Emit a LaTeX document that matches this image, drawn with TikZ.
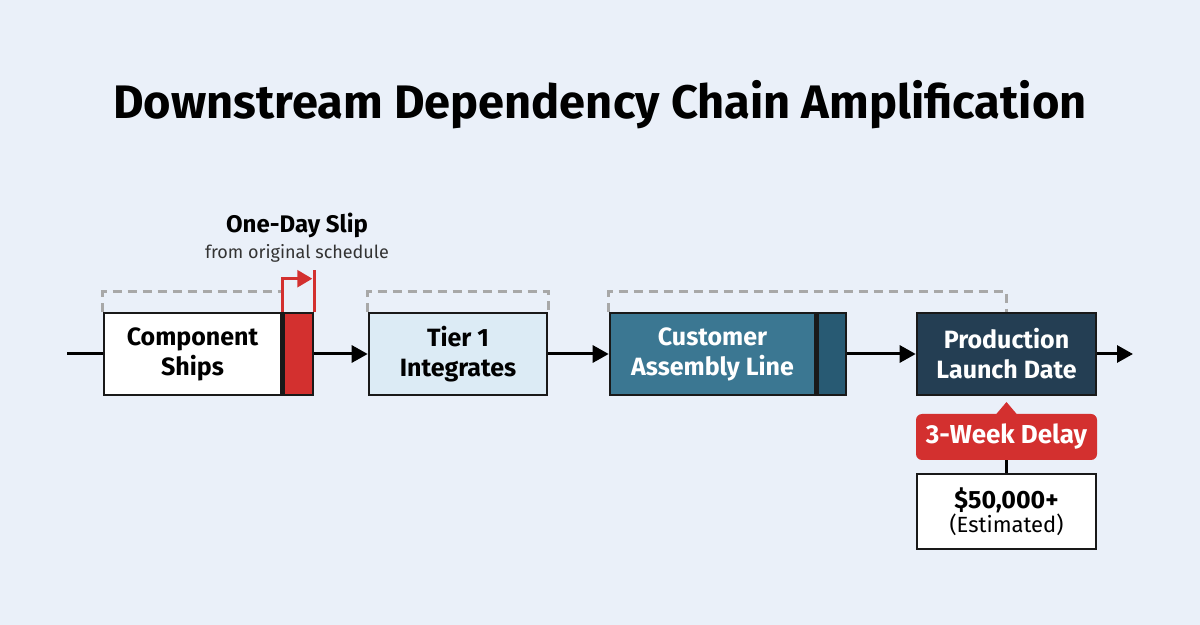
\documentclass[tikz,border=0pt]{standalone}
\usepackage{fontspec}
\setmainfont{Fira Sans}
\usetikzlibrary{positioning, arrows.meta}

\definecolor{bgcol}{HTML}{EAF0F9}
\definecolor{slipred}{HTML}{D3302F}
\definecolor{tierblue}{HTML}{DCEBF5}
\definecolor{custblue}{HTML}{3B7792}
\definecolor{custdark}{HTML}{285A73}
\definecolor{prodblue}{HTML}{243E53}
\definecolor{dashgray}{HTML}{A8A8A8}

\tikzset{
  stage/.style={draw=black!90, line width=1.3pt, minimum height=41pt, inner sep=0pt,
    align=center, font=\fontsize{12.5}{15}\selectfont\bfseries},
  flow/.style={line width=1.5pt, -{Triangle[length=8pt, width=8.5pt]}},
  span/.style={dashgray, line width=1.4pt, dash pattern=on 4.5pt off 3pt},
}

\begin{document}
\begin{tikzpicture}[x=0.5pt, y=-0.5pt]
    \fill[bgcol] (0,0) rectangle (1200,625);
    \useasboundingbox (0,0) rectangle (1200,625);

    \node (title) at (600,105) {\fontsize{23.5}{28}\selectfont\bfseries Downstream Dependency Chain Amplification};

    % stages
    \node[stage, fill=white, minimum width=88.5pt] (comp) at (192.5,354) {Component\\Ships};
    \node[stage, fill=slipred, minimum width=14.7pt, right=0pt of comp] (slip) {};
    \node[stage, fill=tierblue, minimum width=89pt] (tier) at (458,354) {Tier 1\\Integrates};
    \node[stage, fill=custblue, text=white, minimum width=102.5pt] (cust) at (712.5,354) {Customer\\Assembly Line};
    \node[stage, fill=custdark, minimum width=14.2pt, right=0pt of cust] (custtail) {};
    \node[stage, fill=prodblue, text=white, minimum width=89.5pt] (prod) at (1006.5,354) {Production\\Launch Date};

    \coordinate (start) at (67,354);
    \coordinate (finish) at (1133,354);
    \draw[line width=1.5pt] (start) -- (comp.west);
    \draw[flow] (slip.east) -- (tier.west);
    \draw[flow] (tier.east) -- (cust.west);
    \draw[flow] (custtail.east) -- (prod.west);
    \draw[flow] (prod.east) -- (finish);

    % dashed spans
    \draw[span] (comp.north west) -- ++(0,-20) -| (slip.north west);
    \draw[span] (tier.north west) -- ++(0,-20) -| (tier.north east);
    \draw[span] (cust.north west) -- ++(0,-20) -| (prod.north);

    % one-day slip marker
    \draw[slipred, line width=1.3pt, -{Triangle[length=7.5pt, width=8.5pt]}]
      (slip.north west) -- ++(0,-33) -- ++(30,0);
    \draw[slipred, line width=1.3pt] (slip.north east) -- ++(0,-42);
    \node[font=\fontsize{12}{14}\selectfont\bfseries] (sliplabel) at (297,225) {One-Day Slip};
    \node[font=\fontsize{9}{11}\selectfont, text=black!80] (slipnote) at (297,253) {from original schedule};

    % delay callout
    \node[fill=slipred, rounded corners=3pt, minimum width=90.5pt, minimum height=23pt,
      inner sep=0pt, text=white, font=\fontsize{13}{15}\selectfont\bfseries] (delay) at (1006.5,437) {3-Week Delay};
    \fill[slipred] (995.5,415) -- (1006.5,402) -- (1017.5,415) -- cycle;
    \node[draw=black!90, fill=white, line width=1.3pt, minimum width=89.5pt, minimum height=37.5pt,
      inner sep=0pt, align=center] (cost) at (1006.5,511.5)
      {{\fontsize{12.5}{15}\selectfont\bfseries \$50,000+}\\{\fontsize{11}{13}\selectfont (Estimated)}};
    \draw[line width=1.3pt] (delay.south) -- (cost.north);
\end{tikzpicture}
\end{document}
